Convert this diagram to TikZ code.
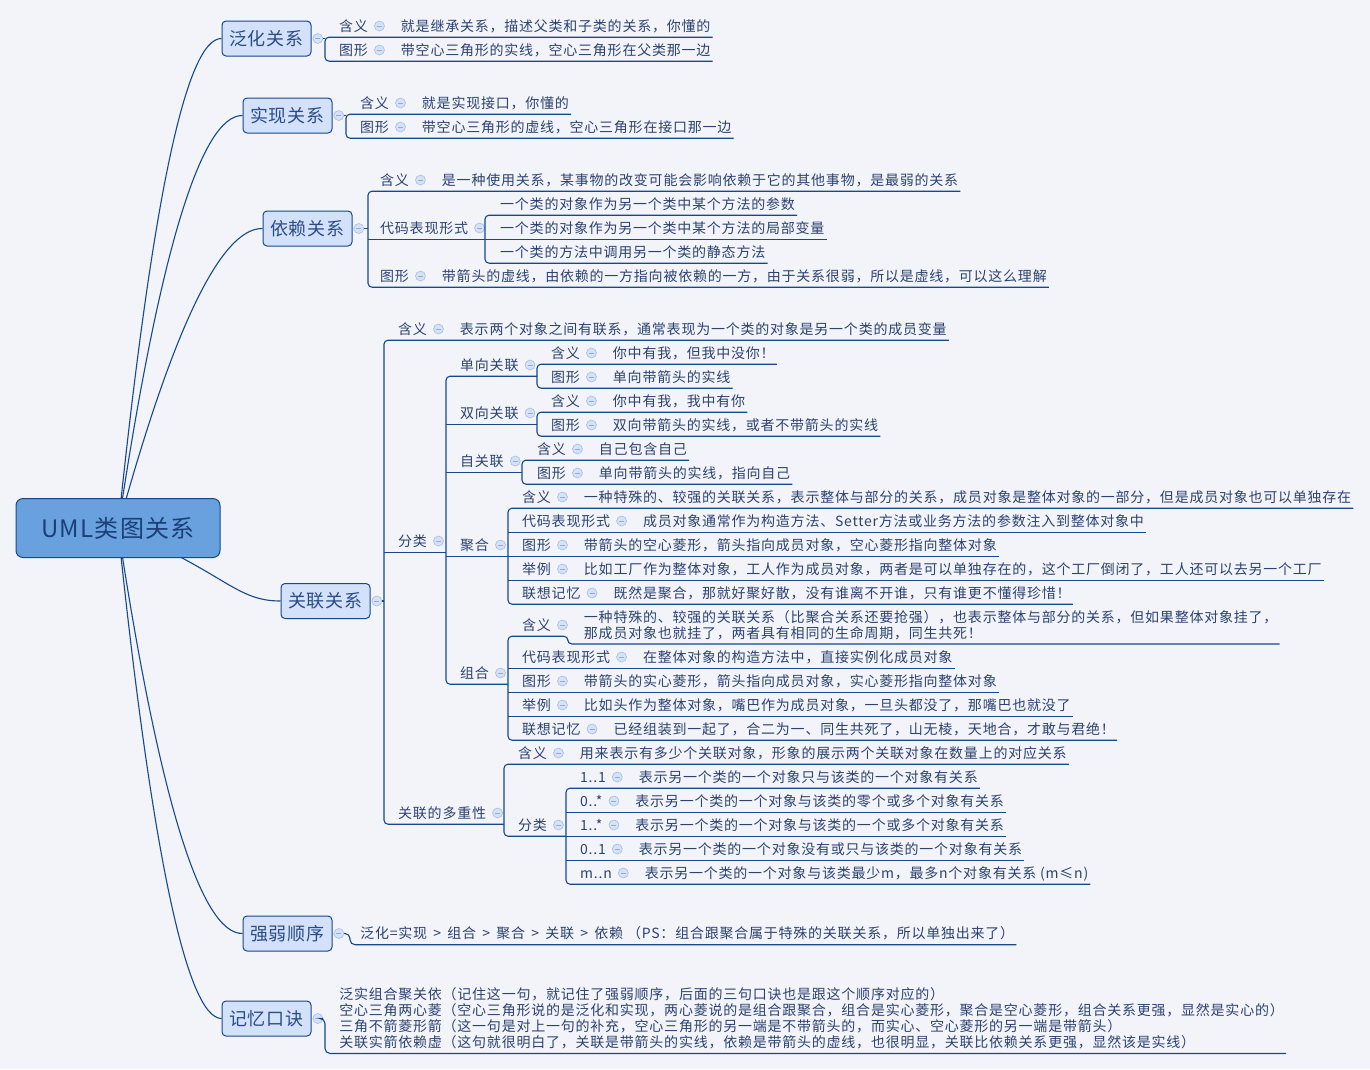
\documentclass[tikz,border=0pt]{standalone}
\usepackage{fontspec}
\setmainfont{Noto Sans CJK SC}
\newfontfamily\cjkspaced[LetterSpace=5.5]{Noto Sans CJK SC}
\usepackage{tikz}
\usetikzlibrary{positioning}
\definecolor{paper}{HTML}{F2F4F9}
\definecolor{navy}{HTML}{17498A}
\definecolor{ink}{HTML}{2C4270}
\definecolor{topictxt}{HTML}{2A4C86}
\definecolor{topicbg}{HTML}{D3E1FB}
\definecolor{rootbg}{HTML}{68A1DE}
\definecolor{roottxt}{HTML}{1C3F78}
\definecolor{iconbg}{HTML}{D4E1F6}
\definecolor{iconbd}{HTML}{A7BEE4}
\newcommand{\rowfont}{\cjkspaced\fontsize{14}{16}\selectfont}
\newcommand{\topicfont}{\cjkspaced\fontsize{18}{20}\selectfont}
\newcommand{\rootfont}{\cjkspaced\fontsize{24}{26}\selectfont}
% one row: label, collapse icon, content
\newcommand{\mrow}[5]{%
  \node[lbl] (#1) at (#2,#3) {#4};
  \node[icon,right=4pt of #1] (#1i) {};
  \node[lbl,right=14pt of #1i] (#1c) {#5};}
% a row whose children hang on a spine
\newcommand{\mgrp}[4]{%
  \node[lbl] (#1) at (#2,#3) {#4};
  \node[icon,right=4pt of #1] (#1i) {};}

\begin{document}
\begin{tikzpicture}[x=1pt,y=-1pt,
 link/.style={draw=navy,line width=1.1pt},
 lbl/.style={anchor=west,inner xsep=2pt,inner ysep=4pt,text height=12pt,text depth=2pt,font=\rowfont,text=ink},
 para/.style={anchor=west,inner xsep=2pt,inner ysep=4pt,align=left,font=\rowfont,text=ink},
 icon/.style={circle,draw=iconbd,fill=iconbg,line width=.6pt,minimum size=10pt,inner sep=0pt,
  path picture={\draw[navy!45,line width=.8pt] ([xshift=-2.5pt]path picture bounding box.center) -- ([xshift=2.5pt]path picture bounding box.center);}},
 topic/.style={draw=navy,fill=topicbg,line width=1pt,rounded corners=4pt,minimum width=89pt,minimum height=35pt,inner sep=0pt,font=\topicfont,text=topictxt},
 rootbox/.style={draw=navy,fill=rootbg,line width=1pt,rounded corners=7pt,minimum width=204pt,minimum height=59pt,inner sep=0pt,font=\rootfont,text=roottxt}]
\path[use as bounding box,fill=paper] (0,0) rectangle (1370,1069);
% spines
\coordinate (rc) at (118,528);
\coordinate (genS) at (325,50);
\coordinate (reaS) at (346,127);
\coordinate (depS) at (368,228);
\coordinate (depCs) at (485,228);
\coordinate (assS) at (384,601);
\coordinate (assKs) at (446,541);
\coordinate (uniS) at (537,376);
\coordinate (biS) at (537,424);
\coordinate (selfS) at (522,472);
\coordinate (aggS) at (508,556);
\coordinate (comS) at (508,684);
\coordinate (assDs) at (504,800);
\coordinate (mulKs) at (566,836);
\coordinate (ordS) at (350,945);
\coordinate (memS) at (325,1053);
% main topics
\node[topic] (gen) at (266.5,38.5) {泛化关系};
\node[topic] (rea) at (287.5,115.5) {实现关系};
\node[topic] (dep) at (307.5,228.5) {依赖关系};
\node[topic] (ass) at (325.5,601) {关联关系};
\node[topic] (ord) at (287.5,933.5) {强弱顺序};
\node[topic] (mem) at (266.5,1018.5) {记忆口诀};
\node[icon,right=1pt of gen] (geni) {};
\node[icon,right=1pt of rea] (reai) {};
\node[icon,right=1pt of dep] (depi) {};
\node[icon,right=1pt of ass] (assi) {};
\node[icon,right=1pt of ord] (ordi) {};
\node[icon,right=1pt of mem] (memi) {};
\draw[link] (rc) .. controls (152,201) and (186,38) .. (gen.west);
\draw[link] (rc) .. controls (159,253) and (201,115) .. (rea.west);
\draw[link] (rc) .. controls (173,328) and (221,228) .. (dep.west);
\draw[link] (rc) .. controls (225,572) and (235,601) .. (ass.west);
\draw[link] (rc) .. controls (159,799) and (201,934) .. (ord.west);
\draw[link] (rc) .. controls (152,855) and (187,1018) .. (mem.west);
\node[rootbox] (root) at (rc) {UML类图关系};
% 泛化 / 实现
\mrow{genM}{337}{26}{含义}{就是继承关系，描述父类和子类的关系，你懂的}
\mrow{genG}{337}{50}{图形}{带空心三角形的实线，空心三角形在父类那一边}
\mrow{reaM}{358}{103}{含义}{就是实现接口，你懂的}
\mrow{reaG}{358}{127}{图形}{带空心三角形的虚线，空心三角形在接口那一边}
\draw[link] (geni) -- (genS |- geni);
\draw[link,rounded corners=4pt] (genMc.south east) -| (genS) |- (genGc.south east);
\draw[link] (reai) -- (reaS |- reai);
\draw[link,rounded corners=4pt] (reaMc.south east) -| (reaS) |- (reaGc.south east);
% 依赖
\mrow{depM}{378}{180}{含义}{是一种使用关系，某事物的改变可能会影响依赖于它的其他事物，是最弱的关系}
\mgrp{depC}{378}{228}{代码表现形式}
\mrow{depG}{378}{276}{图形}{带箭头的虚线，由依赖的一方指向被依赖的一方，由于关系很弱，所以是虚线，可以这么理解}
\node[lbl] (depC1) at (498,204) {一个类的对象作为另一个类中某个方法的参数};
\node[lbl] (depC2) at (498,228) {一个类的对象作为另一个类中某个方法的局部变量};
\node[lbl] (depC3) at (498,252) {一个类的方法中调用另一个类的静态方法};
\draw[link] (depi) -- (depS |- depi);
\draw[link,rounded corners=4pt] (depMc.south east) -| (depS) |- (depGc.south east);
\draw[link] (depS |- depC.south) -- (depCs |- depC.south);
\draw[link,rounded corners=4pt] (depC1.south east) -| (depCs) |- (depC3.south east);
\draw[link] (depCs |- depC2.south) -- (depC2.south east);
% 关联
\mrow{assM}{396}{329}{含义}{表示两个对象之间有联系，通常表现为一个类的对象是另一个类的成员变量}
\mgrp{assK}{396}{541}{分类}
\mgrp{assD}{396}{813}{关联的多重性}
\mgrp{uni}{458}{365}{单向关联}
\mgrp{bi}{458}{413}{双向关联}
\mgrp{self}{458}{461}{自关联}
\mgrp{agg}{458}{545}{聚合}
\mgrp{com}{458}{673}{组合}
\mrow{uniM}{549}{353}{含义}{你中有我，但我中没你！}
\mrow{uniG}{549}{377}{图形}{单向带箭头的实线}
\mrow{biM}{549}{401}{含义}{你中有我，我中有你}
\mrow{biG}{549}{425}{图形}{双向带箭头的实线，或者不带箭头的实线}
\mrow{selfM}{535}{449}{含义}{自己包含自己}
\mrow{selfG}{535}{473}{图形}{单向带箭头的实线，指向自己}
\mrow{aggM}{520}{497}{含义}{一种特殊的、较强的关联关系，表示整体与部分的关系，成员对象是整体对象的一部分，但是成员对象也可以单独存在}
\mrow{aggC}{520}{521}{代码表现形式}{成员对象通常作为构造方法、Setter方法或业务方法的参数注入到整体对象中}
\mrow{aggG}{520}{545}{图形}{带箭头的空心菱形，箭头指向成员对象，空心菱形指向整体对象}
\mrow{aggE}{520}{569}{举例}{比如工厂作为整体对象，工人作为成员对象，两者是可以单独存在的，这个工厂倒闭了，工人还可以去另一个工厂}
\mrow{aggR}{520}{593}{联想记忆}{既然是聚合，那就好聚好散，没有谁离不开谁，只有谁更不懂得珍惜！}
\node[lbl] (comM) at (520,625) {含义};
\node[icon,right=4pt of comM] (comMi) {};
\node[para,right=14pt of comMi] (comMc) {一种特殊的、较强的关联关系（比聚合关系还要抢强），也表示整体与部分的关系，但如果整体对象挂了，\\那成员对象也就挂了，两者具有相同的生命周期，同生共死！};
\mrow{comC}{520}{657}{代码表现形式}{在整体对象的构造方法中，直接实例化成员对象}
\mrow{comG}{520}{681}{图形}{带箭头的实心菱形，箭头指向成员对象，实心菱形指向整体对象}
\mrow{comE}{520}{705}{举例}{比如头作为整体对象，嘴巴作为成员对象，一旦头都没了，那嘴巴也就没了}
\mrow{comR}{520}{729}{联想记忆}{已经组装到一起了，合二为一、同生共死了，山无棱，天地合，才敢与君绝！}
\mrow{mulM}{516}{753}{含义}{用来表示有多少个关联对象，形象的展示两个关联对象在数量上的对应关系}
\mgrp{mulK}{516}{825}{分类}
\mrow{m11}{578}{777}{1..1}{表示另一个类的一个对象只与该类的一个对象有关系}
\mrow{m0n}{578}{801}{0..*}{表示另一个类的一个对象与该类的零个或多个对象有关系}
\mrow{m1n}{578}{825}{1..*}{表示另一个类的一个对象与该类的一个或多个对象有关系}
\mrow{m01}{578}{849}{0..1}{表示另一个类的一个对象没有或只与该类的一个对象有关系}
\mrow{mmn}{578}{873}{m..n}{表示另一个类的一个对象与该类最少m，最多n个对象有关系 (m≤n)}
\draw[link] (assi) -- (assS |- assi);
\draw[link,rounded corners=4pt] (assMc.south east) -| (assS) |- (assDs |- assD.south);
\draw[link] (assS |- assK.south) -- (assKs |- assK.south);
\draw[link,rounded corners=4pt] (uniS |- uni.south) -| (assKs) |- (comS |- com.south);
\draw[link] (assKs |- bi.south) -- (biS |- bi.south);
\draw[link] (assKs |- self.south) -- (selfS |- self.south);
\draw[link] (assKs |- agg.south) -- (aggS |- agg.south);
\draw[link,rounded corners=4pt] (uniMc.south east) -| (uniS) |- (uniGc.south east);
\draw[link,rounded corners=4pt] (biMc.south east) -| (biS) |- (biGc.south east);
\draw[link,rounded corners=4pt] (selfMc.south east) -| (selfS) |- (selfGc.south east);
\draw[link,rounded corners=4pt] (aggMc.south east) -| (aggS) |- (aggRc.south east);
\draw[link] (aggS |- aggC.south) -- (aggCc.south east);
\draw[link] (aggS |- aggG.south) -- (aggGc.south east);
\draw[link] (aggS |- aggE.south) -- (aggEc.south east);
\draw[link,rounded corners=4pt] (comMc.south east) -| (comMi.east |- comM.south) -| (comS) |- (comRc.south east);
\draw[link] (comS |- comC.south) -- (comCc.south east);
\draw[link] (comS |- comG.south) -- (comGc.south east);
\draw[link] (comS |- comE.south) -- (comEc.south east);
\draw[link,rounded corners=4pt] (mulMc.south east) -| (assDs) |- (mulKs |- mulK.south);
\draw[link,rounded corners=4pt] (m11c.south east) -| (mulKs) |- (mmnc.south east);
\draw[link] (mulKs |- m0n.south) -- (m0nc.south east);
\draw[link] (mulKs |- m1n.south) -- (m1nc.south east);
\draw[link] (mulKs |- m01.south) -- (m01c.south east);
% 强弱顺序 / 记忆口诀
\node[lbl,right=14pt of ordi] (ordc) {泛化=实现 \,>\, 组合 \,>\, 聚合 \,>\, 关联 \,>\, 依赖 （PS：组合跟聚合属于特殊的关联关系，所以单独出来了）};
\node[para,right=14pt of memi] (memc) {泛实组合聚关依（记住这一句，就记住了强弱顺序，后面的三句口诀也是跟这个顺序对应的）\\
空心三角两心菱（空心三角形说的是泛化和实现，两心菱说的是组合跟聚合，组合是实心菱形，聚合是空心菱形，组合关系更强，显然是实心的）\\
三角不箭菱形箭（这一句是对上一句的补充，空心三角形的另一端是不带箭头的，而实心、空心菱形的另一端是带箭头）\\
关联实箭依赖虚（这句就很明白了，关联是带箭头的实线，依赖是带箭头的虚线，也很明显，关联比依赖关系更强，显然该是实线）};
\draw[link,rounded corners=5pt] (ordi) -| (ordS |- ordc.south) -- (ordc.south east);
\draw[link,rounded corners=5pt] (memi) -| (memS |- memc.south) -- (memc.south east);
\end{tikzpicture}
\end{document}
